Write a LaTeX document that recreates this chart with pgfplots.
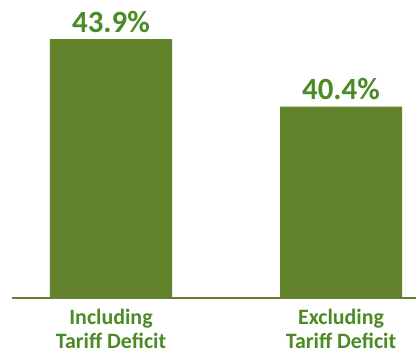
\documentclass[border=0pt]{standalone}
\usepackage{pgfplots}
\pgfplotsset{compat=1.18}
\usepackage{fontspec}
\setmainfont{Carlito}
\definecolor{barg}{HTML}{62822C}
\definecolor{txtg}{HTML}{4C8A26}
\begin{document}
\begin{tikzpicture}
\useasboundingbox (0,0) rectangle (416bp,354bp);
\begin{axis}[
  at={(12bp,56bp)}, anchor=south west,
  scale only axis,
  width=404bp, height=298bp,
  xmin=-0.4304, xmax=1.326,
  ymin=30.5, ymax=45.92,
  ybar, bar width=0.5304,
  axis x line=bottom, axis y line=none,
  x axis line style={-, line width=2bp, draw=barg},
  xtick={0,1}, xtick style={draw=none},
  xticklabels={{Including\\Tariff Deficit},{Excluding\\Tariff Deficit}},
  xticklabel style={align=center, font=\fontsize{22}{25}\selectfont\bfseries, text=txtg, yshift=-5bp},
  nodes near coords={\pgfmathprintnumber[fixed,precision=1,fixed zerofill,assume math mode=true]{\pgfplotspointmeta}\%},
  every node near coord/.append style={font=\fontsize{31}{36}\selectfont\bfseries, text=txtg, anchor=south, yshift=3bp},
]
\addplot[fill=barg, draw=none] coordinates {(0,43.9) (1,40.4)};
\end{axis}
\end{tikzpicture}
\end{document}
